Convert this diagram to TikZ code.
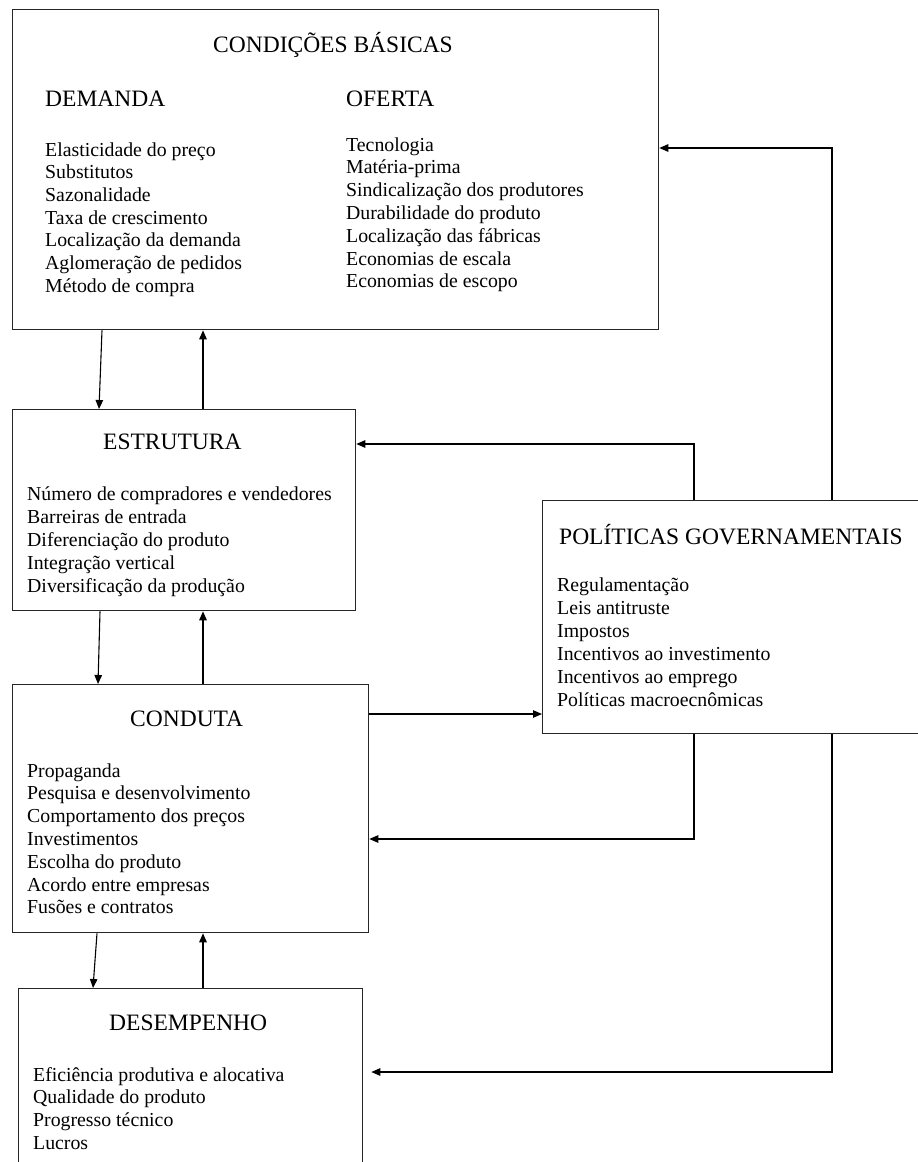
\documentclass[tikz,border=0pt]{standalone}
\usepackage{fontspec}
\setmainfont{Liberation Serif}
\usetikzlibrary{arrows.meta, calc}

\tikzset{
  caixa/.style={draw=black!85, line width=1.3pt, anchor=north west, inner sep=0pt},
  titulo/.style={anchor=base west, inner sep=0pt, font=\fontsize{23.5}{28}\selectfont},
  item/.style={anchor=base west, inner sep=0pt, font=\fontsize{19.8}{23}\selectfont},
  seta/.style={-{Triangle[length=9pt,width=7.5pt]}, line width=1.1pt},
}

\begin{document}
\begin{tikzpicture}[x=1pt, y=-1pt]
    \useasboundingbox (0,0) rectangle (918,1162);
    \clip (0,0) rectangle (918,1162);

    % Condicoes basicas
    \node[caixa, minimum width=646pt, minimum height=320pt] (basicas) at (12,9) {};
    \node[titulo] (basicas-tit) at (213,52) {CONDIÇÕES BÁSICAS};
    \node[titulo] (demanda) at (45,106) {DEMANDA};
    \node[titulo] (oferta) at (346,106) {OFERTA};
    \foreach \t [count=\i from 0] in {Elasticidade do preço, Substitutos, Sazonalidade,
        Taxa de crescimento, Localização da demanda, Aglomeração de pedidos, Método de compra}
    \node[item] (dem-\i) at (45,{156+22.7*\i}) {\t};
    \foreach \t [count=\i from 0] in {Tecnologia, Matéria-prima, Sindicalização dos produtores,
        Durabilidade do produto, Localização das fábricas, Economias de escala, Economias de escopo}
    \node[item] (of-\i) at (346,{151+22.8*\i}) {\t};

    % Estrutura
    \node[caixa, minimum width=343pt, minimum height=201pt] (estrutura) at (12,409) {};
    \node[titulo] (estrutura-tit) at (103,449) {ESTRUTURA};
    \foreach \t [count=\i from 0] in {Número de compradores e vendedores, Barreiras de entrada,
        Diferenciação do produto, Integração vertical, Diversificação da produção}
    \node[item] (est-\i) at (27,{500+23.2*\i}) {\t};

    % Conduta
    \node[caixa, minimum width=356pt, minimum height=248pt] (conduta) at (12,684) {};
    \node[titulo] (conduta-tit) at (130,726) {CONDUTA};
    \foreach \t [count=\i from 0] in {Propaganda, Pesquisa e desenvolvimento, Comportamento dos preços,
        Investimentos, Escolha do produto, Acordo entre empresas, Fusões e contratos}
    \node[item] (con-\i) at (27,{777+22.8*\i}) {\t};

    % Desempenho
    \node[caixa, minimum width=344pt, minimum height=200pt] (desempenho) at (18,988) {};
    \node[titulo] (desempenho-tit) at (109,1030) {DESEMPENHO};
    \foreach \t [count=\i from 0] in {Eficiência produtiva e alocativa, Qualidade do produto,
        Progresso técnico, Lucros}
    \node[item] (des-\i) at (33,{1081+22.7*\i}) {\t};

    % Politicas governamentais
    \node[caixa, minimum width=400pt, minimum height=233pt] (politicas) at (542,500) {};
    \node[titulo] (politicas-tit) at (559,544) {POLÍTICAS GOVERNAMENTAIS};
    \foreach \t [count=\i from 0] in {Regulamentação, Leis antitruste, Impostos,
        Incentivos ao investimento, Incentivos ao emprego, Políticas macroecnômicas}
    \node[item] (pol-\i) at (557,{591+23*\i}) {\t};

    % Setas verticais
    \draw[seta] ($(basicas.south west)+(90,0)$) -- ($(estrutura.north west)+(87,0)$);
    \draw[seta] ($(estrutura.north west)+(191,0)$) -- ($(basicas.south west)+(191,0)$);
    \draw[seta] ($(estrutura.south west)+(88,0)$) -- ($(conduta.north west)+(86,0)$);
    \draw[seta] ($(conduta.north west)+(191,0)$) -- ($(estrutura.south west)+(191,0)$);
    \draw[seta] ($(conduta.south west)+(85,0)$) -- ($(desempenho.north west)+(75,0)$);
    \draw[seta] ($(desempenho.north west)+(185,0)$) -- ($(conduta.south west)+(191,0)$);

    % Setas das politicas
    \coordinate (c1) at ($(conduta.north east)+(0,30)$);
    \draw[seta] (c1) -- (c1 -| politicas.west);
    \draw[seta] ($(politicas.north west)+(152,0)$) |- ($(estrutura.north east)+(0,35)$);
    \draw[seta] ($(politicas.north west)+(290,0)$) |- ($(basicas.north east)+(0,139)$);
    \draw[seta] ($(politicas.south west)+(152,0)$) |- ($(conduta.north east)+(0,155)$);
    \draw[seta] ($(politicas.south west)+(290,0)$) |- ($(desempenho.north east)+(8,84)$);
\end{tikzpicture}
\end{document}
